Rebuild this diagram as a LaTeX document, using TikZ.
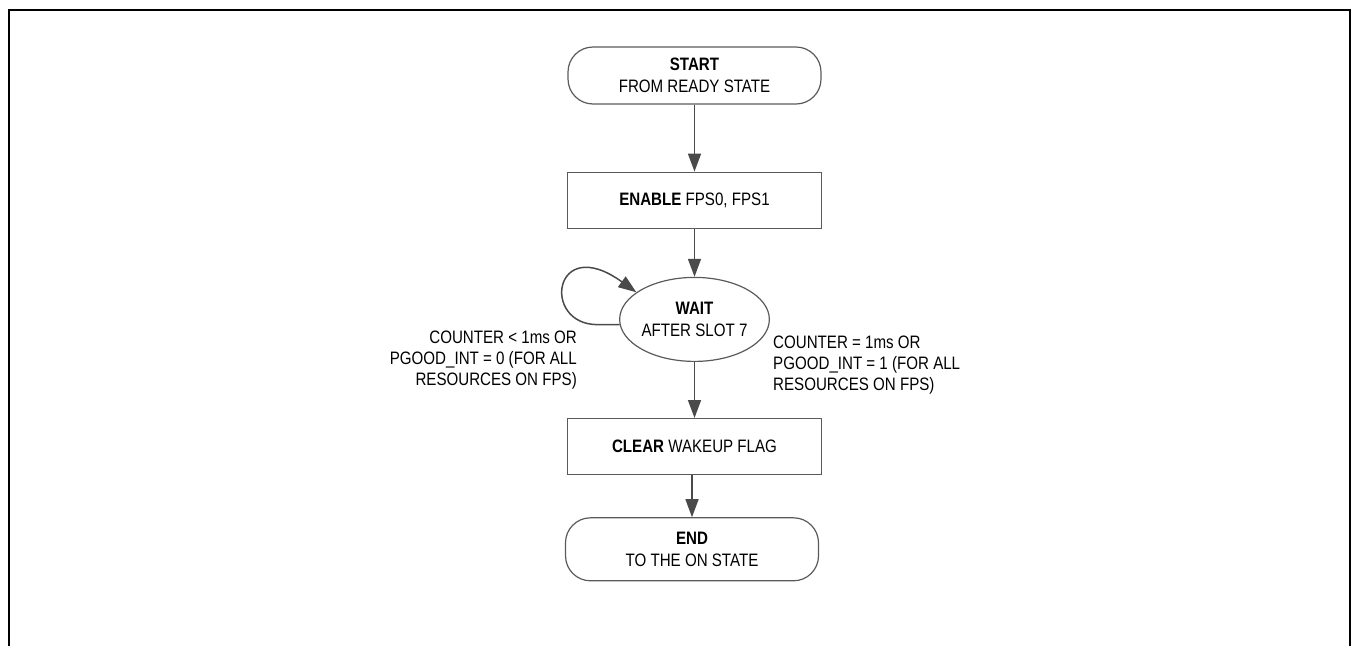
\documentclass[tikz,border=0pt]{standalone}
\usepackage{fontspec}
\setmainfont{Liberation Sans}[FakeStretch=0.84]
\usepackage{xcolor}
\usetikzlibrary{arrows.meta,positioning,calc,shapes.geometric}
\definecolor{linegray}{HTML}{4A4A4A}
\definecolor{boxgray}{HTML}{5A5A5A}
\newcommand{\flowfont}{\fontsize{18}{22}\selectfont}

\begin{document}
\begin{tikzpicture}[x=1pt,y=1pt,>={Triangle[length=18pt,width=13pt]},
 term/.style={draw=boxgray,line width=1.2pt,rounded corners=25pt,align=center,
 minimum width=253pt,minimum height=57pt,inner sep=0pt,font=\flowfont},
 proc/.style={draw=boxgray,line width=1.2pt,align=center,
 minimum width=254pt,minimum height=56pt,inner sep=0pt,font=\flowfont},
 waitst/.style={ellipse,draw=boxgray,line width=1.2pt,align=center,
 minimum width=141pt,minimum height=84pt,inner sep=0pt,font=\flowfont},
 cond/.style={inner sep=0pt,font=\fontsize{18}{21}\selectfont},
 flow/.style={->,draw=linegray,fill=linegray,line width=1.5pt}]
\useasboundingbox (0,0) rectangle (1351,-646);
% open frame round the chart
\draw[line width=2pt] (9,-646) -- (9,-10) -- (1350,-10) -- (1350,-646);

\node[term] (start) at (694.5,-75.5) {\textbf{START}\\FROM READY STATE};
\node[proc,below=67pt of start] (enable) {\textbf{ENABLE} FPS0, FPS1};
\node[waitst,below=48pt of enable] (wait) {\textbf{WAIT}\\AFTER SLOT 7};
\node[proc,below=56pt of wait] (clear) {\textbf{CLEAR} WAKEUP FLAG};
\node[term,below=42pt of clear,xshift=-2.5pt,minimum height=63pt] (end) {\textbf{END}\\TO THE ON STATE};

\node[cond,anchor=east,align=right] (stay) at ($(wait.center)+(-117.5,-41)$)
 {COUNTER < 1ms OR\\PGOOD\_INT = 0 (FOR ALL\\RESOURCES ON FPS)};
\node[cond,anchor=west,align=left] (go) at ($(wait.center)+(78.5,-46)$)
 {COUNTER = 1ms OR\\PGOOD\_INT = 1 (FOR ALL\\RESOURCES ON FPS)};

\draw[flow] (start) -- (enable);
\draw[flow] (enable) -- (wait);
\draw[flow] (wait) -- (clear);
\draw[flow] (clear.south -| end.north) -- (end.north);
\draw[flow,fill=none] (wait.184) -- ++(-22,0)
 .. controls +(-57,0) and +(-83,60) .. (wait.155);
\end{tikzpicture}
\end{document}
